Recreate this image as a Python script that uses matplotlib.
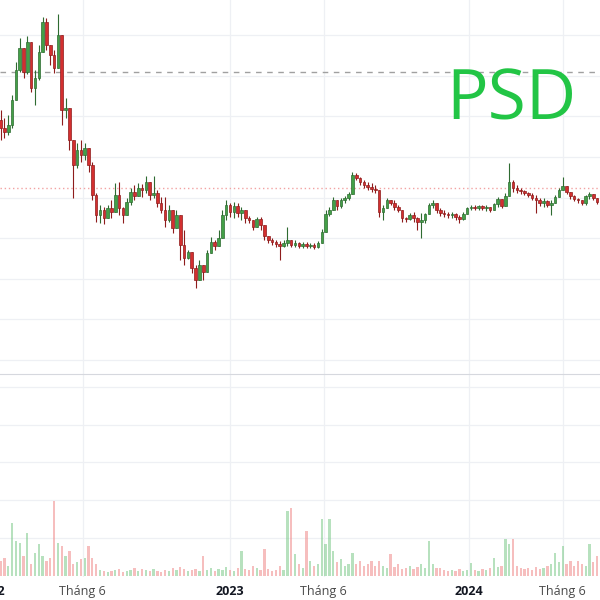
import numpy as np
import matplotlib.pyplot as plt
from matplotlib.transforms import blended_transform_factory

# PSD price (thousand VND) - one bar per 4 trading sessions, from early 2022
first_open = 17.80
close = [
    17.42, 17.23, 17.57, 18.81, 20.29, 21.37, 20.19, 21.66, 19.40, 19.89,
    21.17, 22.65, 21.52, 21.02, 20.38, 22.01, 18.32, 18.41, 16.84, 15.60,
    16.34, 16.10, 16.44, 15.60, 14.13, 13.14, 13.39, 12.99, 13.49, 13.29,
    14.13, 13.49, 13.14, 13.78, 14.28, 14.08, 14.47, 14.37, 14.77, 14.13,
    14.23, 13.73, 13.39, 12.90, 13.39, 12.50, 13.14, 11.66, 11.02, 11.32,
    10.53, 9.94, 10.68, 10.33, 11.27, 11.81, 11.62, 12.01, 13.14, 13.63,
    13.29, 13.58, 13.24, 13.39, 12.99, 12.90, 12.55, 12.95, 12.65, 12.11,
    11.91, 11.81, 11.71, 11.62, 11.76, 11.91, 11.66, 11.76, 11.62, 11.71,
    11.62, 11.66, 11.57, 11.76, 12.30, 13.19, 13.39, 13.88, 13.58, 13.88,
    13.98, 14.18, 15.11, 14.96, 14.77, 14.62, 14.52, 14.42, 14.37, 13.29,
    13.49, 13.88, 13.73, 13.54, 13.39, 12.99, 12.95, 13.14, 12.99, 12.80,
    12.90, 13.19, 13.63, 13.73, 13.39, 13.24, 13.19, 13.14, 13.19, 13.04,
    12.95, 13.19, 13.49, 13.54, 13.49, 13.58, 13.49, 13.54, 13.39, 13.68,
    13.93, 13.58, 14.08, 14.77, 14.47, 14.37, 14.32, 14.23, 14.13, 13.98,
    13.88, 13.73, 13.83, 13.63, 13.73, 14.03, 14.37, 14.57, 14.28, 14.08,
    13.93, 13.88, 13.73, 14.08, 14.18, 13.98, 13.78, 13.73,
]
high = [
    18.32, 17.92, 18.07, 19.05, 20.68, 21.86, 21.27, 21.96, 21.02, 20.29,
    21.52, 22.89, 22.85, 21.52, 21.27, 23.04, 22.01, 18.91, 18.07, 16.84,
    16.69, 16.84, 16.69, 16.34, 15.75, 14.23, 13.63, 13.54, 13.63, 13.88,
    14.72, 14.77, 13.54, 13.98, 14.47, 14.62, 14.72, 14.67, 15.06, 14.57,
    15.06, 14.37, 14.03, 14.03, 13.63, 12.90, 13.39, 12.55, 12.40, 11.42,
    11.07, 10.68, 10.93, 10.58, 11.42, 12.06, 11.91, 12.40, 13.39, 13.88,
    13.73, 13.78, 13.73, 13.54, 13.24, 13.09, 12.90, 13.04, 13.04, 12.55,
    12.06, 12.01, 11.91, 11.86, 11.91, 12.55, 11.91, 11.91, 11.81, 11.81,
    11.81, 11.76, 11.76, 11.86, 12.45, 13.39, 13.54, 14.03, 13.73, 13.98,
    14.08, 14.28, 15.26, 15.21, 15.01, 14.87, 14.77, 14.72, 14.62, 14.23,
    13.63, 13.98, 13.88, 13.88, 13.63, 13.14, 13.04, 13.24, 13.29, 13.04,
    13.24, 13.24, 13.73, 13.88, 13.73, 13.49, 13.39, 13.29, 13.29, 13.24,
    13.14, 13.29, 13.54, 13.63, 13.63, 13.63, 13.63, 13.63, 13.54, 13.73,
    14.03, 13.78, 14.23, 15.70, 14.87, 14.62, 14.47, 14.37, 14.28, 14.23,
    14.13, 13.98, 13.98, 13.88, 13.88, 14.13, 14.47, 15.01, 14.52, 14.28,
    14.13, 13.98, 13.88, 14.13, 14.28, 14.18, 13.98, 13.88,
]
low = [
    16.84, 16.94, 17.08, 17.43, 18.81, 20.19, 19.89, 20.09, 19.20, 18.56,
    19.79, 21.27, 21.27, 20.53, 20.14, 20.38, 17.58, 17.92, 16.34, 13.98,
    15.46, 15.75, 15.85, 15.26, 13.88, 12.80, 12.75, 12.70, 13.04, 12.99,
    13.29, 13.14, 12.75, 13.24, 13.63, 13.88, 14.08, 14.03, 14.23, 13.88,
    13.98, 13.54, 13.24, 12.55, 12.80, 12.26, 12.60, 10.93, 10.68, 10.98,
    10.28, 9.55, 10.04, 9.94, 10.78, 11.27, 11.42, 11.66, 12.40, 12.90,
    13.04, 12.99, 13.04, 12.90, 12.75, 12.75, 12.40, 12.60, 12.40, 11.91,
    11.76, 11.66, 11.57, 10.93, 11.57, 11.62, 11.57, 11.57, 11.52, 11.52,
    11.52, 11.52, 11.47, 11.52, 11.76, 12.55, 13.09, 13.39, 13.39, 13.49,
    13.73, 13.88, 14.37, 14.87, 14.62, 14.47, 14.37, 14.28, 14.23, 13.04,
    12.90, 13.49, 13.63, 13.39, 13.29, 12.80, 12.80, 12.90, 12.80, 12.40,
    12.01, 12.75, 13.29, 13.49, 13.24, 13.09, 13.04, 12.99, 12.99, 12.90,
    12.75, 12.90, 13.24, 13.39, 13.39, 13.39, 13.39, 13.34, 13.29, 13.39,
    13.54, 13.49, 13.63, 14.08, 14.28, 14.23, 14.18, 14.13, 14.03, 13.88,
    13.24, 13.58, 13.54, 13.54, 13.14, 13.73, 14.03, 14.37, 14.18, 13.93,
    13.83, 13.73, 13.63, 13.63, 13.93, 13.88, 13.68, 13.63,
]
# volume (million shares)
volume = [
    0.39, 0.47, 0.26, 1.39, 0.92, 0.87, 0.53, 1.13, 0.32, 0.61,
    0.84, 0.53, 0.39, 0.47, 1.97, 0.87, 0.79, 0.53, 0.66, 0.32,
    0.37, 0.45, 0.47, 0.79, 0.47, 0.32, 0.16, 0.13, 0.11, 0.13,
    0.16, 0.18, 0.11, 0.13, 0.16, 0.21, 0.13, 0.18, 0.16, 0.13,
    0.18, 0.13, 0.11, 0.16, 0.13, 0.21, 0.16, 0.24, 0.18, 0.13,
    0.16, 0.18, 0.13, 0.53, 0.16, 0.21, 0.13, 0.18, 0.16, 0.24,
    0.16, 0.13, 0.21, 0.66, 0.18, 0.16, 0.26, 0.21, 0.16, 0.71,
    0.18, 0.13, 0.16, 0.26, 0.16, 1.71, 1.79, 0.58, 0.32, 0.21,
    1.18, 0.39, 0.26, 0.32, 1.50, 0.84, 1.50, 0.66, 0.37, 0.45,
    0.26, 0.32, 0.61, 0.32, 0.39, 0.26, 0.32, 0.39, 0.26, 0.39,
    0.26, 0.21, 0.58, 0.24, 0.32, 0.18, 0.21, 0.26, 0.18, 0.24,
    0.32, 0.21, 0.92, 0.32, 0.21, 0.21, 0.16, 0.13, 0.16, 0.13,
    0.18, 0.13, 0.16, 0.34, 0.16, 0.13, 0.18, 0.16, 0.21, 0.47,
    0.24, 0.26, 0.97, 0.84, 0.97, 0.26, 0.21, 0.18, 0.21, 0.16,
    0.24, 0.18, 0.21, 0.26, 0.32, 0.61, 0.37, 0.79, 0.32, 0.39,
    0.26, 0.39, 0.32, 0.26, 0.84, 0.37, 0.53, 0.32,
]

# x axis in trading sessions counted from the start of 2022
tick_sessions = [0, 96, 250, 348, 500, 598]
tick_labels = ['2022', 'Tháng 6', '2023', 'Tháng 6', '2024', 'Tháng 6']
ref_dashed = 20.19   # grey dashed level
ref_dotted = 14.47   # red dotted level

START, STEP = 10, 4

close = np.array(close)
opens = np.concatenate([[first_open], close[:-1]])
high = np.maximum(np.array(high), np.maximum(opens, close))
low = np.minimum(np.array(low), np.minimum(opens, close))
volume = np.array(volume)
sessions = START + STEP * np.arange(len(close))
up = close >= opens

UP, DOWN = '#43a047', '#d32f2f'
UP_EDGE, DOWN_EDGE = '#2e6b31', '#8e1c1c'

fig = plt.figure(figsize=(6, 6), dpi=100)
fig.patch.set_facecolor('white')
ax = fig.add_axes([0, 0.3767, 1, 0.6233])
axv = fig.add_axes([0, 0.0383, 1, 0.3384], sharex=ax)

for a in (ax, axv):
    for s in a.spines.values():
        s.set_visible(False)
    a.tick_params(length=0, labelbottom=False, labelleft=False)
    a.grid(True, color='#eef0f4', linewidth=0.9)
    a.set_axisbelow(True)
    a.set_xticks(tick_sessions)

axv.spines['top'].set_visible(True)
axv.spines['top'].set_color('#d6d8de')

# candles
ax.vlines(sessions, low, high, colors=np.where(up, UP_EDGE, DOWN_EDGE),
          linewidth=0.8, zorder=2)
body = np.maximum(np.abs(close - opens), 0.04)
ax.bar(sessions, body, bottom=np.minimum(opens, close), width=2.7,
       color=np.where(up, UP, DOWN), edgecolor=np.where(up, UP_EDGE, DOWN_EDGE),
       linewidth=0.5, zorder=3)

ax.axhline(ref_dashed, color='#a0a0a0', linestyle=(0, (4, 4)), linewidth=1, zorder=1)
ax.axhline(ref_dotted, color='#f2a2a2', linestyle=(0, (1, 2)), linewidth=1, zorder=1)

ax.set_yticks(np.arange(6, 24, 2))
ax.set_ylim(5.31, 23.73)
ax.set_xlim(9.4, 637)

# volume
axv.bar(sessions, volume, width=2.4, color=np.where(up, '#7cc98a', '#f08a8a'),
        alpha=0.55, linewidth=0, zorder=2)
axv.set_yticks([1, 2, 3, 4, 5])
axv.set_ylim(-0.03, 5.34)

trans = blended_transform_factory(axv.transData, axv.transAxes)
for pos, lab in zip(tick_sessions, tick_labels):
    is_year = lab.isdigit()
    axv.text(pos, -0.069, lab, transform=trans, ha='center', va='center',
             fontsize=9, family='Open Sans',
             fontweight='bold' if is_year else 'normal',
             color='#131722' if is_year else '#4a4a4a', clip_on=False)

fig.text(0.852, 0.8, 'PSD', ha='center', va='baseline', fontsize=50,
         family='Open Sans', color='#22c545')

fig.savefig('out.png', dpi=100, facecolor='white')
